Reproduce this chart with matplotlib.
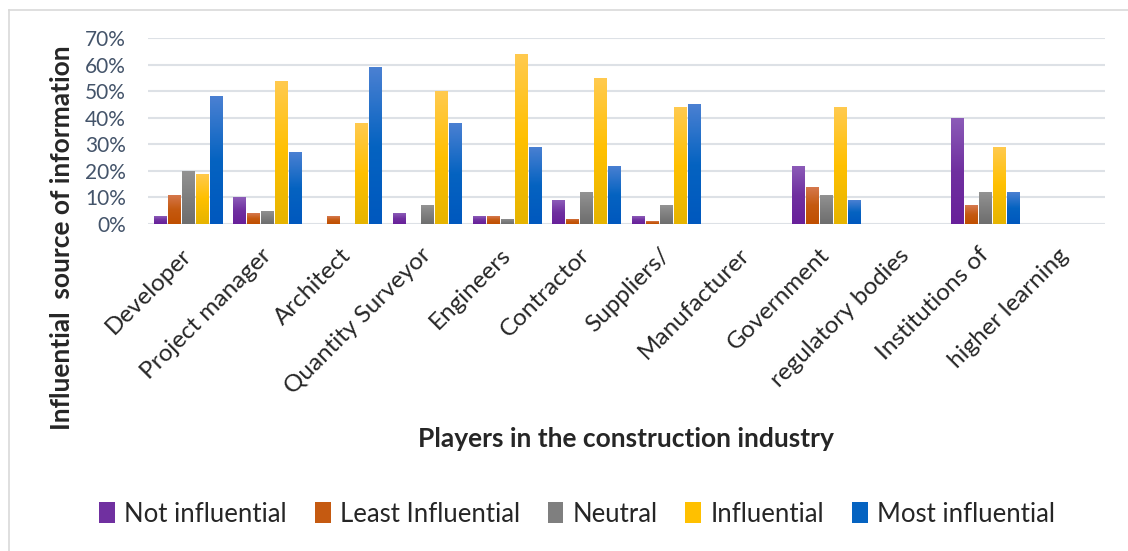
import numpy as np
import matplotlib.pyplot as plt
from matplotlib.colors import LinearSegmentedColormap
from matplotlib.patches import Patch
from matplotlib.lines import Line2D
from matplotlib.ticker import FuncFormatter

plt.rcParams['font.family'] = ['Lato', 'DejaVu Sans']

# players (two-line names were split into separate categories in the source sheet)
players = ['Developer', 'Project manager', 'Architect', 'Quantity Surveyor', 'Engineers',
           'Contractor', 'Suppliers/', 'Manufacturer', 'Government', 'regulatory bodies',
           'Institutions of', 'higher learning']
levels = ['Not influential', 'Least Influential', 'Neutral', 'Influential', 'Most influential']

# percentages per rating level
not_influential   = [3, 10, 0, 4, 3, 9, 3, 0, 22, 0, 40, 0]
least_influential = [11, 4, 3, 0, 3, 2, 1, 0, 14, 0, 7, 0]
neutral           = [20, 5, 0, 7, 2, 12, 7, 0, 11, 0, 12, 0]
influential       = [19, 54, 38, 50, 64, 55, 44, 0, 44, 0, 29, 0]
most_influential  = [48, 27, 59, 38, 29, 22, 45, 0, 9, 0, 12, 0]
series = [not_influential, least_influential, neutral, influential, most_influential]

# top / middle / bottom shades for the gradient fill
shades = [
    ('#8c5cb8', '#7030a0', '#68209a'),
    ('#d6794f', '#c55a11', '#c04f00'),
    ('#939393', '#7f7f7f', '#6e6e6e'),
    ('#ffca4f', '#ffc000', '#e6b400'),
    ('#4a80d2', '#0563c1', '#0058be'),
]

fig = plt.figure(figsize=(11.28, 5.51), dpi=100)
ax = fig.add_axes([0.1312, 0.5935, 0.8484, 0.3375])

x = np.arange(len(players))
step = 0.176
width = 0.157
grad = np.linspace(1, 0, 64).reshape(-1, 1)

for j, vals in enumerate(series):
    cmap = LinearSegmentedColormap.from_list('g%d' % j, shades[j][::-1])
    bars = ax.bar(x + (j - 2) * step, vals, width, color=shades[j][1], zorder=2)
    for b in bars:
        h = b.get_height()
        if h <= 0:
            continue
        x0 = b.get_x()
        im = ax.imshow(grad, cmap=cmap, extent=[x0, x0 + b.get_width(), 0, h],
                       aspect='auto', origin='upper', zorder=3, interpolation='bilinear')
        im.set_clip_path(b)

ax.set_xlim(-0.5, len(players) - 0.5)
ax.set_ylim(0, 70)
ax.set_aspect('auto')
ax.set_yticks(range(0, 71, 10))
ax.yaxis.set_major_formatter(FuncFormatter(lambda v, p: '%d%%' % v))
ax.yaxis.grid(True, color='#dde1e6', linewidth=1.5, zorder=0)
ax.set_axisbelow(True)
for s in ax.spines.values():
    s.set_visible(False)
ax.tick_params(axis='y', length=0, pad=16, labelsize=15, labelcolor='#44546a')
ax.tick_params(axis='x', length=0, pad=20, labelsize=17.5, labelcolor='#262626')
ax.set_xticks(x)
ax.set_xticklabels(players, rotation=45, ha='right', va='center', rotation_mode='anchor')

fig.text(62 / 1128, 1 - 238 / 551, 'Influential  source of information', rotation=90,
         fontsize=19, fontweight='bold', color='#262626', ha='center', va='center')
fig.text(626 / 1128, 1 - 439 / 551, 'Players in the construction industry',
         fontsize=19, fontweight='bold', color='#262626', ha='center', va='center')

handles = [Patch(facecolor=shades[j][1], edgecolor='none') for j in range(5)]
fig.legend(handles, levels, loc='center', bbox_to_anchor=(577 / 1128, 1 - 514 / 551),
           ncol=5, frameon=False, fontsize=18.5, handlelength=0.62, handleheight=0.85,
           handletextpad=0.35, columnspacing=1.08, labelcolor='#262626')

# chart frame
fig.add_artist(Line2D([9 / 1128, 9 / 1128], [0, 1 - 10 / 551], color='#d9d9d9', lw=1.2))
fig.add_artist(Line2D([9 / 1128, 1], [1 - 10 / 551, 1 - 10 / 551], color='#d9d9d9', lw=1.2))

fig.savefig('out.png', dpi=100)
